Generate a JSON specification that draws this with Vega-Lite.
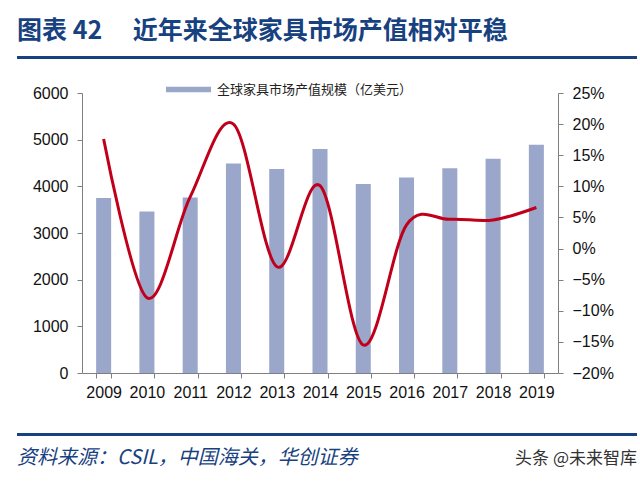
{
  "$schema": "https://vega.github.io/schema/vega-lite/v6.json",
  "background": "white",
  "padding": {"left": 14, "top": 18, "right": 4, "bottom": 0},
  "spacing": 24,
  "title": {"text": "头条 @未来智库", "orient": "bottom", "anchor": "end", "font": "Noto Sans CJK SC", "fontSize": 17, "fontWeight": "normal", "color": "#333333", "offset": 0, "dy": -17},
  "config": {"view": {"stroke": null}, "font": "Liberation Sans"},
  "vconcat": [
    {
      "width": 620,
      "height": 3,
      "view": {"fill": "#17417F", "stroke": null},
      "title": {"text": "图表 42　 近年来全球家具市场产值相对平稳", "anchor": "start", "font": "Noto Sans CJK SC", "fontSize": 25, "fontWeight": "bold", "color": "#17417F", "offset": 11},
      "data": {"values": [{"a": 1}]},
      "mark": {"type": "point", "opacity": 0},
      "encoding": {}
    },
    {
      "spacing": 0,
      "hconcat": [
        {
          "width": 1,
          "height": 1,
          "data": {"values": [{"a": 1}]},
          "mark": {"type": "point", "opacity": 0},
          "encoding": {}
        },
        {
          "width": 476,
          "height": 280,
          "data": {"values": [
            {"year": "2009", "value": 3750, "growth": 0.176},
            {"year": "2010", "value": 3460, "growth": -0.079},
            {"year": "2011", "value": 3760, "growth": 0.083},
            {"year": "2012", "value": 4490, "growth": 0.200},
            {"year": "2013", "value": 4370, "growth": -0.029},
            {"year": "2014", "value": 4800, "growth": 0.101},
            {"year": "2015", "value": 4050, "growth": -0.155},
            {"year": "2016", "value": 4190, "growth": 0.038},
            {"year": "2017", "value": 4390, "growth": 0.047},
            {"year": "2018", "value": 4590, "growth": 0.046},
            {"year": "2019", "value": 4890, "growth": 0.066}
          ]},
          "encoding": {
            "x": {"field": "year", "type": "nominal", "scale": {"paddingInner": 0.653, "paddingOuter": 0.3265},
              "axis": {"title": null, "labelAngle": 0, "labelFontSize": 16, "labelColor": "#111111", "tickBand": "extent", "tickSize": 5, "labelPadding": 6, "domainColor": "#7f7f7f", "tickColor": "#7f7f7f", "minExtent": 34}}
          },
          "layer": [
            {
              "mark": {"type": "bar"},
              "encoding": {
                "y": {"field": "value", "type": "quantitative", "scale": {"domain": [0, 6000], "nice": false},
                  "axis": {"title": null, "values": [0, 1000, 2000, 3000, 4000, 5000, 6000], "grid": false, "labelFontSize": 16, "labelColor": "#111111", "tickSize": 5, "labelPadding": 9, "domainColor": "#7f7f7f", "tickColor": "#7f7f7f", "minExtent": 61, "format": "d"}},
                "color": {"datum": "全球家具市场产值规模（亿美元）", "type": "nominal", "scale": {"range": ["#9BA6CB"]},
                  "legend": {"title": null, "orient": "none", "legendX": 149, "legendY": 11, "symbolType": "M-1,-0.12L1,-0.12L1,0.12L-1,0.12Z", "symbolSize": 2025, "symbolStrokeWidth": 0, "labelFont": "Noto Sans CJK SC", "labelFontSize": 13, "labelColor": "#222222", "labelOffset": 6, "labelLimit": 0}}
              }
            },
            {
              "mark": {"type": "line", "color": "#C0001A", "strokeWidth": 3, "interpolate": "cardinal"},
              "encoding": {
                "y": {"field": "growth", "type": "quantitative", "scale": {"domain": [-0.2, 0.25], "nice": false, "zero": false},
                  "axis": {"title": null, "orient": "right", "values": [-0.2, -0.15, -0.1, -0.05, 0, 0.05, 0.1, 0.15, 0.2, 0.25], "format": ".0%", "grid": false, "labelFontSize": 16, "labelColor": "#111111", "tickSize": 5, "labelPadding": 9, "domainColor": "#7f7f7f", "tickColor": "#7f7f7f"}}
              }
            }
          ],
          "resolve": {"scale": {"y": "independent"}}
        }
      ]
    },
    {
      "width": 620,
      "height": 3,
      "view": {"fill": "#17417F", "stroke": null},
      "title": {"text": "资料来源：CSIL，中国海关，华创证券", "orient": "bottom", "anchor": "start", "font": "Noto Sans CJK SC", "fontSize": 20, "fontStyle": "italic", "fontWeight": "normal", "color": "#17417F", "offset": 11},
      "data": {"values": [{"a": 1}]},
      "mark": {"type": "point", "opacity": 0},
      "encoding": {}
    }
  ]
}
